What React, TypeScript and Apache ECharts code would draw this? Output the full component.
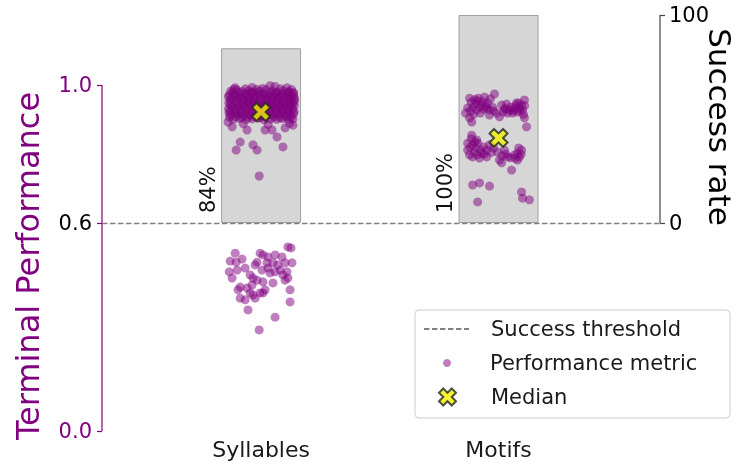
import React, { useEffect, useRef } from "react";
import * as echarts from "echarts";

const CATEGORIES = ["Syllables", "Motifs"];
const SUCCESS_RATE = [84, 100];
const MEDIANS = [0.922, 0.847];
const THRESHOLD = 0.6;
const LEFT_TICKS = [0, 0.6, 1.0];
const RIGHT_TICKS = [0, 100];

// [jitter around category, terminal performance]
const SYL_POINTS: [number, number][] = [
  [-0.128, 0.982], [-0.101, 0.985], [-0.079, 0.981], [-0.052, 0.984], [-0.031, 0.98], [-0.006, 0.983], [0.021, 0.986], [0.047, 0.982], [0.068, 0.979], [0.094, 0.984], [0.118, 0.981], [0.137, 0.978],
  [-0.134, 0.971], [-0.112, 0.973], [-0.088, 0.969], [-0.063, 0.972], [-0.041, 0.975], [-0.017, 0.97], [0.009, 0.973], [0.033, 0.971], [0.058, 0.974], [0.082, 0.969], [0.106, 0.972], [0.129, 0.97],
  [-0.125, 0.96], [-0.097, 0.962], [-0.071, 0.959], [-0.049, 0.961], [-0.024, 0.963], [0.002, 0.958], [0.027, 0.961], [0.051, 0.96], [0.073, 0.963], [0.099, 0.958], [0.121, 0.961], [0.141, 0.959],
  [-0.136, 0.948], [-0.109, 0.95], [-0.084, 0.947], [-0.058, 0.951], [-0.035, 0.949], [-0.011, 0.946], [0.015, 0.95], [0.039, 0.948], [0.064, 0.951], [0.088, 0.947], [0.112, 0.949], [0.133, 0.946],
  [-0.122, 0.937], [-0.094, 0.939], [-0.068, 0.936], [-0.045, 0.938], [-0.02, 0.94], [0.006, 0.935], [0.031, 0.938], [0.055, 0.937], [0.079, 0.939], [0.103, 0.936], [0.126, 0.938],
  [-0.131, 0.925], [-0.105, 0.927], [-0.081, 0.924], [-0.056, 0.926], [-0.029, 0.928], [-0.003, 0.923], [0.019, 0.926], [0.044, 0.925], [0.07, 0.927], [0.093, 0.924], [0.117, 0.926], [0.139, 0.923],
  [-0.127, 0.913], [-0.099, 0.915], [-0.074, 0.912], [-0.05, 0.914], [-0.026, 0.916], [0.0, 0.911], [0.024, 0.914], [0.049, 0.913], [0.076, 0.915], [0.101, 0.912], [0.123, 0.914],
  [-0.118, 0.901], [-0.091, 0.903], [-0.062, 0.9], [-0.037, 0.902], [-0.012, 0.904], [0.013, 0.899], [0.04, 0.902], [0.066, 0.901], [0.09, 0.903], [0.115, 0.9], [0.134, 0.902],
  [-0.115, 0.988], [-0.066, 0.989], [-0.018, 0.988], [0.008, 0.99], [0.081, 0.989], [0.128, 0.987],
  [-0.121, 0.977], [-0.092, 0.978], [-0.066, 0.976], [-0.04, 0.979], [-0.012, 0.977], [0.015, 0.976], [0.041, 0.978], [0.063, 0.977], [0.088, 0.976], [0.114, 0.978], [0.136, 0.975],
  [-0.138, 0.966], [-0.11, 0.967], [-0.083, 0.965], [-0.055, 0.967], [-0.03, 0.966], [-0.005, 0.968], [0.02, 0.965], [0.045, 0.967], [0.068, 0.966], [0.091, 0.967], [0.115, 0.965], [0.139, 0.966],
  [-0.13, 0.955], [-0.104, 0.956], [-0.077, 0.954], [-0.052, 0.955], [-0.028, 0.957], [-0.003, 0.954], [0.022, 0.956], [0.046, 0.955], [0.07, 0.954], [0.094, 0.956], [0.118, 0.955], [0.14, 0.953],
  [-0.129, 0.943], [-0.102, 0.944], [-0.076, 0.942], [-0.051, 0.943], [-0.027, 0.945], [0.0, 0.942], [0.024, 0.944], [0.048, 0.943], [0.072, 0.942], [0.096, 0.944], [0.12, 0.942], [0.14, 0.941],
  [-0.137, 0.931], [-0.113, 0.932], [-0.088, 0.93], [-0.062, 0.931], [-0.037, 0.933], [-0.012, 0.93], [0.012, 0.932], [0.038, 0.931], [0.062, 0.93], [0.086, 0.932], [0.11, 0.931], [0.133, 0.93],
  [-0.135, 0.919], [-0.112, 0.92], [-0.087, 0.918], [-0.062, 0.919], [-0.038, 0.921], [-0.013, 0.918], [0.012, 0.92], [0.037, 0.919], [0.062, 0.918], [0.088, 0.92], [0.112, 0.919], [0.137, 0.917],
  [-0.133, 0.907], [-0.106, 0.908], [-0.08, 0.906], [-0.055, 0.907], [-0.031, 0.909], [-0.006, 0.906], [0.019, 0.908], [0.052, 0.907], [0.079, 0.906], [0.104, 0.908], [0.127, 0.906],
  [-0.109, 0.992], [-0.038, 0.993], [0.038, 0.998], [0.059, 0.996], [0.109, 0.992],
  [-0.088, 0.835], [-0.105, 0.812], [-0.034, 0.827], [-0.017, 0.812], [0.067, 0.85], [0.101, 0.876], [0.092, 0.821], [0.017, 0.87], [0.046, 0.87], [-0.008, 0.737], [-0.059, 0.87], [-0.122, 0.879], [0.134, 0.884], [-0.139, 0.893], [-0.075, 0.888], [0.03, 0.886], [0.12, 0.889],
  [0.113, 0.532], [0.126, 0.529], [-0.109, 0.514], [-0.13, 0.491], [-0.08, 0.497], [-0.004, 0.514], [0.008, 0.509], [0.029, 0.503], [0.059, 0.509], [0.088, 0.503],
  [-0.017, 0.488], [-0.025, 0.48], [0.025, 0.486], [0.05, 0.486], [0.071, 0.48], [0.101, 0.486], [0.13, 0.486], [-0.101, 0.465], [0.059, 0.46], [0.08, 0.465],
  [0.109, 0.46], [0.038, 0.457], [-0.122, 0.442], [-0.046, 0.451], [-0.034, 0.442], [-0.017, 0.436], [0.008, 0.431], [0.05, 0.428], [0.101, 0.436], [0.113, 0.442],
  [-0.088, 0.416], [-0.059, 0.413], [-0.097, 0.408], [-0.046, 0.399], [-0.034, 0.393], [-0.004, 0.399], [0.008, 0.399], [-0.088, 0.384], [-0.025, 0.384], [0.122, 0.373],
  [-0.055, 0.35], [0.059, 0.329], [-0.008, 0.292], [-0.105, 0.488], [-0.067, 0.471], [-0.038, 0.422], [0.029, 0.471], [0.092, 0.451], [-0.067, 0.379], [0.017, 0.408],
  [0.122, 0.408], [-0.134, 0.46], [0.004, 0.465],
];

const MOT_POINTS: [number, number][] = [
  [-0.122, 0.962], [-0.017, 0.974], [0.109, 0.957], [-0.088, 0.954], [-0.067, 0.951], [-0.046, 0.948], [-0.109, 0.936], [-0.08, 0.936], [-0.05, 0.934], [-0.025, 0.936],
  [-0.13, 0.934], [0.025, 0.931], [0.046, 0.928], [0.067, 0.931], [0.088, 0.934], [0.101, 0.928], [-0.008, 0.919], [0.004, 0.908], [0.038, 0.919], [0.059, 0.919],
  [0.08, 0.922], [-0.038, 0.913], [-0.122, 0.905], [-0.113, 0.893], [0.109, 0.905], [0.118, 0.879], [-0.097, 0.945], [-0.059, 0.965], [0.013, 0.942], [0.076, 0.948],
  [0.097, 0.942], [-0.139, 0.919], [-0.076, 0.919], [0.034, 0.945], [-0.034, 0.96],
  [-0.115, 0.95], [-0.1, 0.958], [-0.072, 0.944], [-0.055, 0.94], [-0.092, 0.928], [-0.063, 0.93], [-0.118, 0.925], [-0.04, 0.928], [0.02, 0.922], [0.05, 0.936],
  [0.072, 0.94], [0.09, 0.925], [0.105, 0.915], [0.062, 0.925], [0.03, 0.93], [-0.02, 0.925], [-0.085, 0.962], [-0.105, 0.915], [0.085, 0.948], [0.11, 0.94],
  [-0.113, 0.855], [-0.13, 0.832], [-0.109, 0.827], [-0.088, 0.832], [-0.092, 0.841], [-0.13, 0.812], [-0.101, 0.806], [-0.071, 0.803], [-0.05, 0.812], [-0.109, 0.792],
  [-0.08, 0.789], [-0.05, 0.792], [-0.004, 0.806], [0.025, 0.812], [0.038, 0.792], [0.067, 0.798], [0.097, 0.812], [0.004, 0.783], [0.013, 0.775], [0.08, 0.783],
  [0.088, 0.792], [0.055, 0.754], [-0.038, 0.827], [-0.122, 0.798], [-0.063, 0.821], [0.08, 0.803], [-0.021, 0.818],
  [-0.12, 0.82], [-0.095, 0.818], [-0.075, 0.812], [-0.115, 0.845], [-0.1, 0.835], [-0.06, 0.8], [-0.09, 0.798], [0.03, 0.8], [0.05, 0.79], [0.07, 0.788],
  [0.095, 0.8], [0.085, 0.818], [-0.03, 0.805], [0.015, 0.795],
  [-0.109, 0.711], [-0.08, 0.717], [-0.038, 0.708], [-0.088, 0.662], [0.097, 0.691], [0.101, 0.673], [0.13, 0.668],
];

const X_MIN = -0.67;
const X_MAX = 1.68;
const PURPLE = "#800080";
const FONT = "DejaVu Sans";
const X_MARK = "path://M6,0L8,2L6,4L8,6L6,8L4,6L2,8L0,6L2,4L0,2L2,0L4,2Z";

export default function App() {
  const ref = useRef<HTMLDivElement>(null);
  useEffect(() => {
    if (!ref.current) return;
    const chart = echarts.init(ref.current, undefined, { renderer: "svg" });
    const points = [
      ...SYL_POINTS.map(([dx, v]) => [0 + dx, v]),
      ...MOT_POINTS.map(([dx, v]) => [1 + dx, v]),
    ];
    const legendText = (padLeft: number) => ({
      fontFamily: FONT,
      fontSize: 21,
      color: "#1a1a1a",
      lineHeight: 26,
      padding: [0, 0, 0, padLeft],
    });
    chart.setOption({
      animation: false,
      grid: { left: 102, right: 79, top: 15, bottom: 30 },
      xAxis: {
        type: "value",
        min: X_MIN,
        max: X_MAX,
        axisLine: { show: false, onZero: false },
        axisTick: { show: false },
        minorTick: { show: false },
        splitLine: { show: false },
        axisLabel: {
          customValues: [0, 1],
          formatter: (v: number) => CATEGORIES[Math.round(v)] ?? "",
          fontFamily: FONT,
          fontSize: 22,
          color: "#1a1a1a",
          margin: 7,
        },
      },
      yAxis: [
        {
          type: "value",
          min: 0,
          max: 416 / 346,
          axisLine: { show: false, onZero: false },
          splitLine: { show: false },
          axisTick: { show: true, customValues: LEFT_TICKS, length: 5, lineStyle: { color: PURPLE, width: 1.2 } },
          axisLabel: {
            customValues: LEFT_TICKS,
            formatter: (v: number) => (Math.abs(v - THRESHOLD) < 1e-6 ? "{k|" + v.toFixed(1) + "}" : v.toFixed(1)),
            fontFamily: FONT,
            fontSize: 21,
            color: PURPLE,
            margin: 10,
            rich: { k: { color: "#000", fontFamily: FONT, fontSize: 21 } },
          },
        },
        {
          type: "value",
          min: -100,
          max: 100,
          position: "right",
          axisLine: { show: false, onZero: false },
          splitLine: { show: false },
          axisTick: { show: true, customValues: RIGHT_TICKS, length: 5, lineStyle: { color: "#444", width: 1.2 } },
          axisLabel: {
            customValues: RIGHT_TICKS,
            fontFamily: FONT,
            fontSize: 21,
            color: "#000",
            margin: 9,
          },
        },
      ],
      legend: [
        { data: ["Success threshold"], left: 423, top: 316, itemWidth: 45, itemHeight: 14, padding: 0, selectedMode: false, textStyle: legendText(17) },
        { data: ["Performance metric"], left: 443, top: 350, itemWidth: 8, itemHeight: 8, padding: 0, selectedMode: false, textStyle: legendText(34) },
        {
          data: ["Median"], left: 438, top: 384, itemWidth: 17, itemHeight: 17, padding: 0, selectedMode: false, textStyle: legendText(30),
          itemStyle: { borderColor: "#262626", borderWidth: 2 },
        },
      ],
      graphic: [
        {
          type: "rect",
          shape: { x: 415, y: 310, width: 315, height: 108, r: 4 },
          style: { fill: "rgba(255,255,255,0.8)", stroke: "#cccccc", lineWidth: 1 },
          z: 3,
        },
        {
          type: "text",
          x: 28,
          y: 266,
          rotation: Math.PI / 2,
          style: { text: "Terminal Performance", fill: PURPLE, font: `32px '${FONT}'`, align: "center", verticalAlign: "middle" },
        },
        {
          type: "text",
          x: 720,
          y: 127,
          rotation: -Math.PI / 2,
          style: { text: "Success rate", fill: "#000", font: `31px '${FONT}'`, align: "center", verticalAlign: "middle" },
        },
      ],
      series: [
        {
          type: "bar",
          yAxisIndex: 1,
          data: SUCCESS_RATE.map((v, i) => [i, v]),
          barWidth: 80,
          itemStyle: { color: "#d6d6d6", borderColor: "#a0a0a0", borderWidth: 1 },
          label: {
            show: true,
            formatter: (p: any) => SUCCESS_RATE[p.dataIndex] + "%",
            position: [-3, "100%"],
            rotate: 90,
            align: "left",
            verticalAlign: "bottom",
            padding: [0, 0, 0, 10],
            fontFamily: FONT,
            fontSize: 21,
            color: "#111",
          },
          silent: true,
          z: 1,
        },
        {
          name: "Success threshold",
          type: "line",
          data: [[X_MIN, THRESHOLD], [X_MAX, THRESHOLD]],
          symbol: "none",
          clip: false,
          itemStyle: { color: "rgba(0,0,0,0)" },
          lineStyle: { color: "#808080", width: 1.5, type: [5.5, 2.5] },
          silent: true,
          z: 3,
        },
        {
          name: "Performance metric",
          type: "scatter",
          data: points,
          symbolSize: 9,
          itemStyle: { color: PURPLE, opacity: 0.5 },
          silent: true,
          z: 4,
        },
        {
          name: "Median",
          type: "scatter",
          data: MEDIANS.map((v, i) => [i, v]),
          symbol: X_MARK,
          symbolSize: 18,
          itemStyle: { color: "#f2f200", borderColor: "#262626", borderWidth: 2 },
          silent: true,
          z: 5,
        },
        {
          type: "line",
          data: [[X_MIN, 0], [X_MIN, 1]],
          symbol: "none",
          clip: false,
          lineStyle: { color: PURPLE, width: 1.2 },
          silent: true,
          z: 2,
        },
        {
          type: "line",
          yAxisIndex: 1,
          data: [[X_MAX, 0], [X_MAX, 100]],
          symbol: "none",
          clip: false,
          lineStyle: { color: "#444", width: 1.2 },
          silent: true,
          z: 2,
        },
      ],
    });
    return () => chart.dispose();
  }, []);
  return <div ref={ref} style={{ position: "fixed", left: 0, top: 0, width: 739, height: 461 }} />;
}
